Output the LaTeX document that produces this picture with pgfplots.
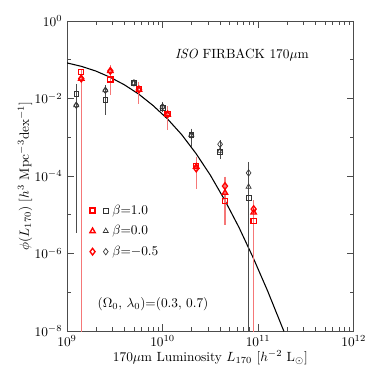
\documentclass[border=0pt]{standalone}
\usepackage{pgfplots}
\pgfplotsset{compat=1.18}
\usepackage{amsmath}
\definecolor{ebred}{RGB}{245,120,120}
\begin{document}
\begin{tikzpicture}
\useasboundingbox (-50.25pt,-32.25pt) rectangle (230.25pt,248.25pt);
\begin{axis}[
  at={(0,0)}, anchor=south west,
  scale only axis,
  width=215pt, height=232.5pt,
  xmode=log, ymode=log,
  xmin=1e9, xmax=1e12, ymin=1e-8, ymax=1,
  ytick={1e-8,1e-6,1e-4,1e-2,1},
  minor ytick={1e-7,1e-5,1e-3,1e-1},
  tick align=inside,
  axis line style={black!70},
  every tick/.style={black!70},
  major tick length=5pt, minor tick length=3pt,
  tick label style={font=\normalsize},
  xlabel={170$\mu$m Luminosity $L_{170}$ [$h^{-2}$ L$_\odot$]},
  ylabel={$\phi(L_{170})$ [$h^{3}$ Mpc$^{-3}$dex$^{-1}$]},
  label style={font=\normalsize},
  xlabel style={yshift=4pt},
  ylabel style={yshift=-5pt},
  clip=true,
  legend style={at={(rel axis cs:0.065,0.425)}, anchor=north west, draw=none, fill=none,
    font=\normalsize, row sep=3pt, column sep=1pt},
  legend columns=2,
  legend cell align=left,
]
% curve
\addplot[black, line width=0.8pt, forget plot] coordinates {
 (1e9,0.0828) (1.413e9,0.0676) (1.995e9,0.0513) (2.818e9,0.0355)
 (3.981e9,0.0226) (5.623e9,0.0130) (7.943e9,0.0066) (1.122e10,0.0030)
 (1.585e10,1.17e-3) (2.239e10,3.8e-4) (3.162e10,1.05e-4) (4.467e10,2.4e-5)
 (6.31e10,4.7e-6) (8.913e10,7.6e-7) (1.259e11,1.07e-7) (1.862e11,9.8e-9)};
% black error bars
\addplot[black!70, line width=0.5pt, forget plot] coordinates {(1.25e9,0.024) (1.25e9,3.3e-6)};
\addplot[black!70, line width=0.5pt, forget plot] coordinates {(2.52e9,0.022) (2.52e9,0.0037)};
\addplot[black!70, line width=0.5pt, forget plot] coordinates {(5.02e9,0.0295) (5.02e9,0.0209)};
\addplot[black!70, line width=0.5pt, forget plot] coordinates {(1.0e10,0.0082) (1.0e10,0.0045)};
\addplot[black!70, line width=0.5pt, forget plot] coordinates {(2.0e10,1.68e-3) (2.0e10,5.6e-4)};
\addplot[black!70, line width=0.5pt, forget plot] coordinates {(4.0e10,8.4e-4) (4.0e10,2.8e-4)};
\addplot[black!70, line width=0.5pt, forget plot] coordinates {(7.95e10,2.3e-4) (7.95e10,1e-9)};
% red error bars
\addplot[ebred, line width=0.8pt, forget plot] coordinates {(1.41e9,0.059) (1.41e9,1e-9)};
\addplot[ebred, line width=0.8pt, forget plot] coordinates {(2.84e9,0.072) (2.84e9,0.0121)};
\addplot[ebred, line width=0.8pt, forget plot] coordinates {(5.66e9,0.027) (5.66e9,0.0074)};
\addplot[ebred, line width=0.8pt, forget plot] coordinates {(1.13e10,0.0063) (1.13e10,0.0015)};
\addplot[ebred, line width=0.8pt, forget plot] coordinates {(2.25e10,3.15e-4) (2.25e10,4.5e-5)};
\addplot[ebred, line width=0.8pt, forget plot] coordinates {(4.5e10,9.6e-5) (4.5e10,5.4e-6)};
\addplot[ebred, line width=0.8pt, forget plot] coordinates {(8.98e10,2.4e-5) (8.98e10,1e-9)};
% black points
\addplot[only marks, mark=square, mark size=1.8pt, black!80, mark options={line width=0.5pt}, forget plot] coordinates {
 (1.25e9,0.0129) (2.52e9,0.0094) (5.02e9,0.0252) (1.0e10,0.0058) (2.0e10,1.15e-3) (4.0e10,4.3e-4) (7.95e10,2.74e-5)};
\addplot[only marks, mark=triangle, mark size=2.2pt, black!80, mark options={line width=0.5pt}, forget plot] coordinates {
 (1.25e9,0.0067) (2.52e9,0.0163) (5.02e9,0.0252) (1.0e10,0.0061) (2.0e10,1.13e-3) (4.0e10,4.45e-4) (7.95e10,5.27e-5)};
\addplot[only marks, mark=diamond, mark size=2.4pt, black!80, mark options={line width=0.5pt}, forget plot] coordinates {
 (1.25e9,0.0067) (2.52e9,0.0163) (5.02e9,0.0252) (1.0e10,0.0061) (2.0e10,1.13e-3) (4.0e10,6.6e-4) (7.95e10,1.2e-4)};
% red points
\addplot[only marks, mark=square, mark size=1.9pt, red, mark options={line width=1pt}, forget plot] coordinates {
 (1.41e9,0.0485) (2.84e9,0.0308) (5.66e9,0.0175) (1.13e10,0.0040) (2.25e10,1.83e-4) (4.5e10,2.25e-5) (8.98e10,6.9e-6)};
\addplot[only marks, mark=triangle, mark size=2.3pt, red, mark options={line width=1pt}, forget plot] coordinates {
 (1.41e9,0.0327) (2.84e9,0.0514) (5.66e9,0.017) (1.13e10,0.0039) (2.25e10,1.75e-4) (4.5e10,3.7e-5) (8.98e10,1.15e-5)};
\addplot[only marks, mark=diamond, mark size=2.5pt, red, mark options={line width=1pt}, forget plot] coordinates {
 (1.41e9,0.0327) (2.84e9,0.0514) (5.66e9,0.017) (1.13e10,0.0039) (2.25e10,1.56e-4) (4.5e10,5.5e-5) (8.98e10,1.4e-5)};
% legend (two columns: red mark, black mark + text)
\addlegendimage{only marks, mark=square, mark size=1.9pt, red, mark options={line width=1pt}}
\addlegendentry{}
\addlegendimage{only marks, mark=square, mark size=1.8pt, black!80, mark options={line width=0.5pt}}
\addlegendentry{$\beta$=1.0}
\addlegendimage{only marks, mark=triangle, mark size=2.3pt, red, mark options={line width=1pt}}
\addlegendentry{}
\addlegendimage{only marks, mark=triangle, mark size=2.2pt, black!80, mark options={line width=0.5pt}}
\addlegendentry{$\beta$=0.0}
\addlegendimage{only marks, mark=diamond, mark size=2.5pt, red, mark options={line width=1pt}}
\addlegendentry{}
\addlegendimage{only marks, mark=diamond, mark size=2.4pt, black!80, mark options={line width=0.5pt}}
\addlegendentry{$\beta$=$-$0.5}
\node[font=\normalsize] at (rel axis cs:0.61,0.89) {\textit{ISO} FIRBACK 170$\mu$m};
\node[font=\normalsize] at (rel axis cs:0.30,0.087) {($\Omega_0$, $\lambda_0$)=(0.3, 0.7)};
\end{axis}
\end{tikzpicture}
\end{document}
